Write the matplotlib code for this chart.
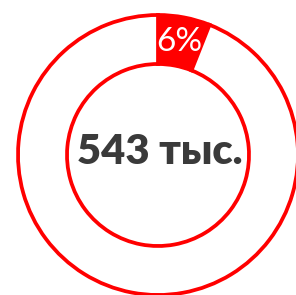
import matplotlib
matplotlib.use('Agg')
import matplotlib.pyplot as plt

# data
shares = [6, 94]
colors = ['#ff0000', '#ffffff']
center_label = '543 тыс.'

W, H = 296, 295
fig = plt.figure(figsize=(W / 100, H / 100), dpi=100)
ax = fig.add_axes([0, 0, 1, 1])

cx, cy = 158, H - 155
r_out, r_in = 140, 91

wedges, texts, autotexts = ax.pie(
    shares, colors=colors, startangle=90, counterclock=False,
    radius=r_out, center=(cx, cy),
    wedgeprops=dict(width=r_out - r_in, edgecolor='#ff0000', linewidth=2.7),
    autopct=lambda p: '%.0f%%' % p if p < 50 else '',
    pctdistance=(r_out + r_in) / 2 / r_out,
    textprops=dict(color='white', fontsize=24, family=['Lato', 'DejaVu Sans']),
)

ax.text(cx + 2, cy + 3, center_label, ha='center', va='center',
        fontsize=30, fontweight='heavy', color='#3a3a3a',
        family=['Lato', 'DejaVu Sans'])

ax.set_xlim(0, W)
ax.set_ylim(0, H)
ax.set_aspect('equal')
ax.axis('off')

fig.savefig('out.png', dpi=100)
